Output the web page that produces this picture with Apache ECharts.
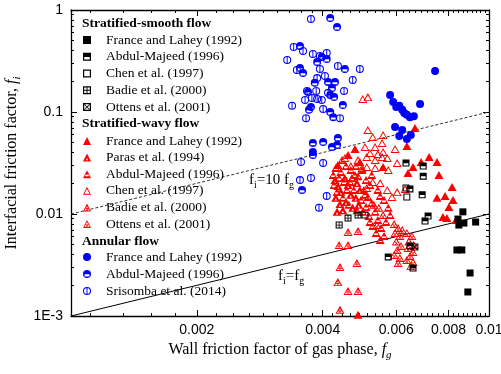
<!DOCTYPE html>
<html>
<head>
<meta charset="utf-8">
<script src="https://cdn.jsdelivr.net/npm/echarts@6/dist/echarts.min.js"></script>
<style>
html, body { margin: 0; padding: 0; background: #fff; }
#chart { width: 501px; height: 374px; }
</style>
</head>
<body>
<div id="chart"></div>
<script>
// tick labels
const xLabelValues = [0.002, 0.004, 0.006, 0.008, 0.01]
const xLabelText = ['0.002', '0.004', '0.006', '0.008', '0.01']
const yLabelValues = [0.001, 0.01, 0.1, 1]
const yLabelText = ['1E-3', '0.01', '0.1', '1']

// reference lines fi = fg and fi = 10 fg
const lineEqual = [[0.001, 0.001], [0.01, 0.01]]
const lineTen = [[0.001, 0.01], [0.01, 0.1]]

// stratified-smooth flow  [fg, fi]
const ssFrance = [[0.00866, 0.0105], [0.00843, 0.00892], [0.00847, 0.00779], [0.00871, 0.00815], [0.00929, 0.00834], [0.00838, 0.00444], [0.00861, 0.00444], [0.00901, 0.00264], [0.0089, 0.00172]]
const ssAbdul = [[0.00633, 0.0316], [0.00696, 0.0295], [0.00696, 0.0235], [0.00647, 0.0176], [0.00692, 0.0154], [0.00715, 0.00954], [0.00703, 0.00853], [0.00574, 0.00379], [0.00658, 0.00295], [0.00647, 0.00486]]
const ssChen = [[0.00633, 0.018], [0.00636, 0.0147], [0.00505, 0.00976]]
const ssBadie = [[0.00438, 0.00779], [0.0046, 0.00912], [0.00486, 0.00976]]
const ssOttens = [[0.00665, 0.00475]]

// stratified-wavy flow
const swFrance = [[0.00665, 0.0697], [0.00636, 0.0465], [0.00478, 0.0434], [0.0046, 0.0379], [0.00719, 0.0362], [0.00688, 0.0323], [0.00751, 0.0323], [0.00759, 0.0241], [0.00658, 0.0289], [0.00491, 0.0323], [0.00435, 0.0302], [0.00816, 0.0184], [0.0064, 0.0252], [0.00785, 0.015], [0.0082, 0.0137], [0.00751, 0.0144], [0.00802, 0.0117], [0.00776, 0.00933], [0.00793, 0.00912], [0.00834, 0.00873], [0.00558, 0.0289], [0.00486, 0.00103]]
const swParas = [[0.00428, 0.0215], [0.00435, 0.0188], [0.00442, 0.0164], [0.0043, 0.0144], [0.0044, 0.0125], [0.00452, 0.0225], [0.0046, 0.0192], [0.00467, 0.0154], [0.00455, 0.0131], [0.00472, 0.0115], [0.00483, 0.0201], [0.00491, 0.0172], [0.0048, 0.0144], [0.00488, 0.0123], [0.00447, 0.0109], [0.00433, 0.0105]]
const swAbdul = [[0.0043, 0.0283], [0.00442, 0.0258], [0.00455, 0.0295], [0.00467, 0.027], [0.0048, 0.0295], [0.00438, 0.0225], [0.0045, 0.0206], [0.0047, 0.0225], [0.00486, 0.0235], [0.00497, 0.027], [0.00508, 0.0215], [0.00502, 0.0172], [0.00513, 0.0147], [0.00524, 0.0128], [0.00508, 0.0117], [0.00534, 0.0105], [0.00516, 0.00954], [0.00542, 0.00873], [0.00527, 0.00762], [0.00552, 0.00729], [0.00537, 0.00651], [0.00549, 0.00556], [0.00561, 0.00609], [0.00519, 0.00834], [0.00499, 0.0105], [0.00567, 0.00834],
  [0.00424, 0.0241], [0.00426, 0.0192], [0.00433, 0.0164], [0.00445, 0.0338], [0.00457, 0.0172], [0.00465, 0.0206], [0.00475, 0.0172], [0.00478, 0.0241], [0.00447, 0.0144], [0.00462, 0.0123], [0.00483, 0.0109], [0.00494, 0.0137], [0.00505, 0.0154], [0.00519, 0.0192], [0.00524, 0.0241], [0.00542, 0.0172], [0.00561, 0.0137], [0.00574, 0.0115], [0.00549, 0.015], [0.0058, 0.00976]]
const swChen = [[0.00499, 0.134], [0.00513, 0.14], [0.00513, 0.0667], [0.00527, 0.057], [0.00558, 0.0596], [0.00505, 0.0454], [0.00534, 0.0454], [0.00555, 0.0497], [0.00558, 0.0405], [0.00596, 0.0434], [0.0051, 0.0362], [0.00542, 0.0387], [0.00571, 0.0354], [0.00534, 0.0338], [0.00603, 0.0316], [0.0051, 0.0289], [0.00467, 0.0295], [0.00519, 0.0396], [0.00555, 0.0362], [0.00534, 0.0283], [0.00574, 0.027], [0.00527, 0.0206], [0.00549, 0.0201], [0.0051, 0.018], [0.00571, 0.0172], [0.00603, 0.0164], [0.0063, 0.0176], [0.00586, 0.0147], [0.00497, 0.0283], [0.00486, 0.0338], [0.00452, 0.0354]]
const swBadie = [[0.0046, 0.00666], [0.00486, 0.00681], [0.00438, 0.00497], [0.0046, 0.00497], [0.00483, 0.00331], [0.0044, 0.00302], [0.00435, 0.00215], [0.0046, 0.00176], [0.00486, 0.00176], [0.0044, 0.00115]]
const swOttens = [[0.00593, 0.00797], [0.00606, 0.00729], [0.00596, 0.00651], [0.00612, 0.00609], [0.006, 0.00537], [0.00616, 0.00486], [0.00603, 0.00444], [0.00593, 0.00397], [0.00612, 0.00371], [0.00606, 0.00331], [0.0062, 0.00697], [0.00636, 0.00651], [0.00654, 0.00609], [0.00643, 0.00537], [0.00661, 0.00497], [0.0064, 0.00464], [0.00658, 0.00424], [0.00647, 0.00388], [0.00636, 0.00354], [0.00658, 0.00338], [0.0065, 0.00309], [0.0053, 0.0123], [0.00545, 0.0115], [0.00558, 0.00976], [0.00539, 0.00779]]

// annular flow
const anFrance = [[0.00743, 0.252], [0.0058, 0.147], [0.0059, 0.125], [0.006, 0.112], [0.0061, 0.115], [0.0062, 0.105], [0.00627, 0.098], [0.00636, 0.094], [0.00647, 0.089], [0.00661, 0.091], [0.00684, 0.12], [0.00596, 0.0712], [0.0062, 0.0667], [0.0061, 0.0583], [0.00636, 0.0545], [0.0065, 0.0596]]
const anAbdul = [[0.00417, 0.835], [0.00433, 0.681], [0.00353, 0.444], [0.00409, 0.331], [0.00398, 0.346], [0.00388, 0.309], [0.00353, 0.27], [0.00359, 0.241], [0.00452, 0.264], [0.00383, 0.193], [0.00412, 0.197], [0.00428, 0.197], [0.00421, 0.172], [0.00417, 0.147], [0.00369, 0.157], [0.00426, 0.14], [0.00375, 0.112], [0.00371, 0.105], [0.00417, 0.1], [0.00447, 0.117], [0.00424, 0.089], [0.00435, 0.0557], [0.00421, 0.0454], [0.00433, 0.0475], [0.00379, 0.0497], [0.00379, 0.0405], [0.00379, 0.0379], [0.00401, 0.0508], [0.00357, 0.0172]]
const anSrisomba = [[0.00375, 0.816], [0.00341, 0.434], [0.00329, 0.323], [0.00359, 0.397], [0.00379, 0.37], [0.00394, 0.354], [0.00409, 0.379], [0.00347, 0.258], [0.00394, 0.264], [0.00435, 0.283], [0.00491, 0.264], [0.00472, 0.206], [0.00388, 0.215], [0.00405, 0.226], [0.0045, 0.161], [0.00367, 0.161], [0.00386, 0.161], [0.00363, 0.131], [0.00377, 0.137], [0.00388, 0.134], [0.00398, 0.131], [0.00338, 0.115], [0.00401, 0.107], [0.00365, 0.087], [0.0044, 0.087], [0.00412, 0.154], [0.00355, 0.0323], [0.00401, 0.0316], [0.00353, 0.0215], [0.00375, 0.0225], [0.00409, 0.015], [0.00392, 0.0115]]

const serif = '"Liberation Serif", "Times New Roman", serif'
const sans = '"Liberation Sans", Arial, sans-serif'

// minor ticks: x in steps of 0.002/9, y at 2..9 per decade
const xMinorTicks = []
for (let k = -4; k <= 36; k++) {
  if (k % 9 !== 0) xMinorTicks.push(0.002 + k * 0.002 / 9)
}
const yMinorTicks = []
;[0.001, 0.01, 0.1].forEach(d => {
  for (let m = 2; m <= 9; m++) yMinorTicks.push(d * m)
})

// marker shapes (holes drawn with reversed winding)
const sq = 'M0,0H100V100H0Z'
const sqIn = ' M15,15V85H85V15Z'
const circ = 'M50,0A50,50 0 1,1 50,100A50,50 0 1,1 50,0Z'
const tri = 'M50,0L100,100L0,100Z'
const triIn = ' M50,26L17,88L83,88Z'
const SYM = {
  sqFill: 'path://' + sq,
  sqHalf: 'path://' + sq + ' M16,52V84H84V52Z',
  sqOpen: 'path://' + sq + sqIn,
  sqPlus: 'path://' + sq + sqIn + ' M44,15H56V85H44Z M15,44H85V56H15Z',
  sqCross: 'path://' + sq + sqIn + ' M15,23L23,15L85,77L77,85Z M77,15L85,23L23,85L15,77Z',
  triFill: 'path://' + tri,
  triHole: 'path://' + tri + ' M50,56L37,84L63,84Z',
  triHalf: 'path://' + tri + ' M28,56V76H72V56Z',
  triOpen: 'path://' + tri + triIn,
  triPlus: 'path://' + tri + triIn + ' M45,24H55V88H45Z M24,60H76V70H24Z',
  triCross: 'path://' + tri + triIn + ' M30,52L38,48L72,92L62,92Z M70,52L38,92L28,92L62,48Z',
  cFill: 'path://' + circ,
  cHalf: 'path://' + circ + ' M20,54V80H80V54Z',
  cPhi: 'path://' + circ + ' M50,13A37,37 0 1,0 50,87A37,37 0 1,0 50,13Z M44,2H56V98H44Z'
}

function scatter (name, data, symbol, color, size) {
  return {
    name: name,
    type: 'scatter',
    data: data,
    symbol: symbol,
    symbolSize: size,
    itemStyle: { color: color, opacity: 1, borderWidth: 0 },
    emphasis: { disabled: true },
    z: 3
  }
}

function refLine (data, type, color) {
  return {
    type: 'line',
    data: data,
    symbol: 'none',
    silent: true,
    lineStyle: { color: color, width: 1, type: type },
    z: 2
  }
}

function xAx (position, major, labels) {
  return {
    type: 'log',
    logBase: 10,
    min: 0.001,
    max: 0.01,
    position: position,
    axisLine: { show: major, onZero: false, lineStyle: { color: '#000', width: 1.3 } },
    axisTick: { show: true, inside: true, length: major ? 6 : 3, customValues: major ? xLabelValues : xMinorTicks, lineStyle: { color: '#000', width: 1 } },
    axisLabel: labels ? {
      show: true,
      customValues: xLabelValues,
      margin: 7,
      fontFamily: sans,
      fontSize: 14,
      color: '#000',
      formatter: v => {
        const i = xLabelValues.findIndex(t => Math.abs(t - v) / t < 1e-6)
        return i >= 0 ? xLabelText[i] : ''
      }
    } : { show: false },
    splitLine: { show: false }
  }
}

function yAx (position, major, labels) {
  return {
    type: 'log',
    logBase: 10,
    min: 0.001,
    max: 1,
    position: position,
    axisLine: { show: major, onZero: false, lineStyle: { color: '#000', width: 1.3 } },
    axisTick: { show: true, inside: true, length: major ? 6 : 3, customValues: major ? yLabelValues : yMinorTicks, lineStyle: { color: '#000', width: 1 } },
    axisLabel: labels ? {
      show: true,
      customValues: yLabelValues,
      margin: 8,
      fontFamily: sans,
      fontSize: 14,
      color: '#000',
      formatter: v => {
        const i = yLabelValues.findIndex(t => Math.abs(t - v) / t < 1e-6)
        return i >= 0 ? yLabelText[i] : ''
      }
    } : { show: false },
    splitLine: { show: false }
  }
}

function legend (top, gap, names) {
  return {
    orient: 'vertical',
    left: 83,
    top: top,
    padding: 0,
    itemGap: gap,
    itemWidth: 28,
    itemHeight: 8,
    selectedMode: false,
    data: names,
    formatter: n => n.slice(3),
    textStyle: { fontFamily: serif, fontSize: 13.5, lineHeight: 14, color: '#000' }
  }
}

function header (text, centerY) {
  return {
    type: 'text',
    left: 82,
    top: centerY - 7,
    style: { text: text, fontFamily: serif, fontSize: 13.5, fontWeight: 'bold', lineHeight: 14, fill: '#000' }
  }
}

const subRich = {
  n: { fontFamily: serif, fontSize: 15, lineHeight: 20, color: '#000' },
  s: { fontFamily: serif, fontSize: 10, lineHeight: 11, verticalAlign: 'bottom', color: '#000' }
}

const chart = echarts.init(document.getElementById('chart'))

const option = {
  animation: false,
  backgroundColor: '#fff',
  grid: { left: 71, right: 12, top: 10, bottom: 58, outerBoundsMode: 'none', containLabel: false },
  xAxis: [
    Object.assign(xAx('bottom', true, true), {
      name: '{n|Wall friction factor of gas phase, }{i|f}{s|g}',
      nameLocation: 'middle',
      nameGap: 22,
      nameTextStyle: {
        rich: {
          n: { fontFamily: serif, fontSize: 16, lineHeight: 22, color: '#000' },
          i: { fontFamily: serif, fontSize: 16, lineHeight: 22, fontStyle: 'italic', color: '#000' },
          s: { fontFamily: serif, fontSize: 11, lineHeight: 12, fontStyle: 'italic', verticalAlign: 'bottom', color: '#000' }
        }
      }
    }),
    xAx('bottom', false, false),
    xAx('top', true, false),
    xAx('top', false, false)
  ],
  yAxis: [
    Object.assign(yAx('left', true, true), {
      name: '{n|Interfacial friction factor, }{i|f}{s|i}',
      nameLocation: 'middle',
      nameGap: 46,
      nameTextStyle: {
        rich: {
          n: { fontFamily: serif, fontSize: 16, lineHeight: 22, color: '#000' },
          i: { fontFamily: serif, fontSize: 16, lineHeight: 22, fontStyle: 'italic', color: '#000' },
          s: { fontFamily: serif, fontSize: 11, lineHeight: 12, fontStyle: 'italic', verticalAlign: 'bottom', color: '#000' }
        }
      }
    }),
    yAx('left', false, false),
    yAx('right', true, false),
    yAx('right', false, false)
  ],
  legend: [
    legend(33, 2.75, ['SS|France and Lahey (1992)', 'SS|Abdul-Majeed (1996)', 'SS|Chen et al. (1997)', 'SS|Badie et al. (2000)', 'SS|Ottens et al. (2001)']),
    legend(134, 2.6, ['SW|France and Lahey (1992)', 'SW|Paras et al. (1994)', 'SW|Abdul-Majeed (1996)', 'SW|Chen et al. (1997)', 'SW|Badie et al. (2000)', 'SW|Ottens et al. (2001)']),
    legend(250, 3, ['AN|France and Lahey (1992)', 'AN|Abdul-Majeed (1996)', 'AN|Srisomba et al. (2014)'])
  ],
  graphic: [
    header('Stratified-smooth flow', 24),
    header('Stratified-wavy flow', 124),
    header('Annular flow', 242),
    {
      type: 'text',
      left: 249,
      top: 170,
      style: { text: 'f{s|i}=10 f{s|g}', fontFamily: serif, fontSize: 15, lineHeight: 20, fill: '#000', rich: subRich }
    },
    {
      type: 'text',
      left: 278,
      top: 266,
      style: { text: 'f{s|i}=f{s|g}', fontFamily: serif, fontSize: 15, lineHeight: 20, fill: '#000', rich: subRich }
    }
  ],
  series: [
    refLine(lineEqual, 'solid', '#000'),
    refLine(lineTen, [3, 2], '#333'),
    scatter('SW|Badie et al. (2000)', swBadie, SYM.triPlus, '#ff0000', [9, 8]),
    scatter('SW|Ottens et al. (2001)', swOttens, SYM.triCross, '#ff0000', [9, 8]),
    scatter('SW|Abdul-Majeed (1996)', swAbdul, SYM.triHalf, '#ff0000', [9, 8]),
    scatter('SW|Paras et al. (1994)', swParas, SYM.triHole, '#ff0000', [9, 8]),
    scatter('SW|Chen et al. (1997)', swChen, SYM.triOpen, '#ff0000', [9, 8]),
    scatter('SW|France and Lahey (1992)', swFrance, SYM.triFill, '#ff0000', [9, 8]),
    scatter('SS|France and Lahey (1992)', ssFrance, SYM.sqFill, '#000', 7),
    scatter('SS|Abdul-Majeed (1996)', ssAbdul, SYM.sqHalf, '#000', 7),
    scatter('SS|Chen et al. (1997)', ssChen, SYM.sqOpen, '#000', 7),
    scatter('SS|Badie et al. (2000)', ssBadie, SYM.sqPlus, '#000', 7),
    scatter('SS|Ottens et al. (2001)', ssOttens, SYM.sqCross, '#000', 7),
    scatter('AN|Srisomba et al. (2014)', anSrisomba, SYM.cPhi, '#0000ff', 8),
    scatter('AN|Abdul-Majeed (1996)', anAbdul, SYM.cHalf, '#0000ff', 8),
    scatter('AN|France and Lahey (1992)', anFrance, SYM.cFill, '#0000ff', 8)
  ]
}

chart.setOption(option)
window.addEventListener('resize', () => {
  chart.resize()
})
</script>
</body>
</html>
